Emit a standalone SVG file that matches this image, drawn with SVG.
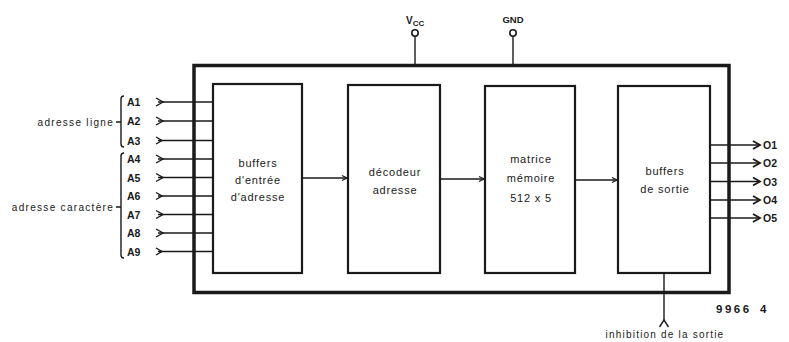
<svg xmlns="http://www.w3.org/2000/svg" width="789" height="342" viewBox="0 0 789 342">
<defs>
<style>
text{font-family:"Liberation Sans",Arial,sans-serif;fill:#1a1a1a}
.t{font-size:11px;text-anchor:middle;letter-spacing:0.8px}
.pin{font-size:10.5px;font-weight:bold}
.lbl{font-size:10px;text-anchor:end;letter-spacing:1.3px}
.blk{fill:#fff;stroke:#1a1a1a;stroke-width:2.2}
.ln{stroke:#1a1a1a;stroke-width:1.4;fill:none}
.chev{stroke:#1a1a1a;stroke-width:1.4;fill:none}
</style>
<marker id="ah" markerWidth="10" markerHeight="10" refX="8" refY="5" orient="auto" markerUnits="userSpaceOnUse">
<path d="M1,1 L8,5 L1,9" fill="none" stroke="#1a1a1a" stroke-width="1.8"/>
</marker>
<marker id="sm" markerWidth="8" markerHeight="8" refX="6" refY="4" orient="auto" markerUnits="userSpaceOnUse">
<path d="M1,1.5 L6,4 L1,6.5" fill="none" stroke="#1a1a1a" stroke-width="1.2"/>
</marker>
</defs>
<rect width="789" height="342" fill="#fff"/>
<g id="chip">
<rect x="194" y="65.5" width="535" height="227" fill="none" stroke="#1a1a1a" stroke-width="3.5"/>
</g>
<g id="vcc">
<circle cx="415" cy="33" r="3.2" fill="#fff" stroke="#1a1a1a" stroke-width="1.6"/>
<text x="406" y="24" class="pin" style="font-size:10px">V<tspan font-size="8" dy="2">CC</tspan></text>
</g>
<g id="gnd">
<circle cx="513" cy="33" r="3.2" fill="#fff" stroke="#1a1a1a" stroke-width="1.6"/>
<text x="513" y="23" class="pin" text-anchor="middle" style="font-size:9.5px">GND</text>
</g>
<g id="connectors">
<line class="ln" x1="415" y1="36.5" x2="415" y2="64"/>
<line class="ln" x1="513" y1="36.5" x2="513" y2="64"/>
<g id="inputs">
<line class="ln" x1="158" y1="102" x2="213" y2="102"/>
<line class="ln" x1="158" y1="121" x2="213" y2="121"/>
<line class="ln" x1="158" y1="140.5" x2="213" y2="140.5"/>
<line class="ln" x1="158" y1="159" x2="213" y2="159"/>
<line class="ln" x1="158" y1="177.5" x2="213" y2="177.5"/>
<line class="ln" x1="158" y1="196" x2="213" y2="196"/>
<line class="ln" x1="158" y1="214.5" x2="213" y2="214.5"/>
<line class="ln" x1="158" y1="233" x2="213" y2="233"/>
<line class="ln" x1="158" y1="251.5" x2="213" y2="251.5"/>
<path class="chev" d="M156,98 L163,102 L156,106 M156,117 L163,121 L156,125 M156,137 L162,140.5 L156,144 M156,155 L163,159 L156,163 M156,173.5 L163,177.5 L156,181.5 M156,192.5 L162,196 L156,199.5 M156,210.5 L163,214.5 L156,218.5 M156,229 L163,233 L156,237 M156,248 L162,251.5 L156,255"/>
</g>
<line class="ln" x1="302" y1="178" x2="347" y2="178" marker-end="url(#sm)"/>
<line class="ln" x1="440" y1="179" x2="484" y2="179" marker-end="url(#sm)"/>
<line class="ln" x1="575" y1="180" x2="617" y2="180" marker-end="url(#sm)"/>
<g id="outputs">
<line class="ln" x1="710" y1="145" x2="760" y2="145" marker-end="url(#ah)"/>
<line class="ln" x1="710" y1="163" x2="760" y2="163" marker-end="url(#ah)"/>
<line class="ln" x1="710" y1="181.5" x2="760" y2="181.5" marker-end="url(#ah)"/>
<line class="ln" x1="710" y1="200" x2="760" y2="200" marker-end="url(#ah)"/>
<line class="ln" x1="710" y1="218" x2="760" y2="218" marker-end="url(#ah)"/>
</g>
<line class="ln" x1="664" y1="273" x2="664" y2="321"/>
<path class="chev" d="M659.5,327 L664,320 L668.5,327" stroke-width="1.6"/>
</g>
<g id="b1">
<rect class="blk" x="213" y="84" width="89" height="189"/>
<text class="t" x="258" y="167">buffers</text>
<text class="t" x="258" y="184">d'entrée</text>
<text class="t" x="258" y="201">d'adresse</text>
</g>
<g id="b2">
<rect class="blk" x="348" y="85" width="92" height="188"/>
<text class="t" x="395" y="176">décodeur</text>
<text class="t" x="395" y="194">adresse</text>
</g>
<g id="b3">
<rect class="blk" x="485" y="86" width="90" height="187"/>
<text class="t" x="531" y="163">matrice</text>
<text class="t" x="531" y="182">mémoire</text>
<text class="t" x="531" y="202">512 x 5</text>
</g>
<g id="b4">
<rect class="blk" x="618" y="86" width="92" height="187"/>
<text class="t" x="665" y="175">buffers</text>
<text class="t" x="665" y="193">de sortie</text>
</g>
<g id="pins-in">
<text class="pin" x="127" y="106">A1</text>
<text class="pin" x="127" y="125">A2</text>
<text class="pin" x="127" y="144.5">A3</text>
<text class="pin" x="127" y="163">A4</text>
<text class="pin" x="127" y="181.5">A5</text>
<text class="pin" x="127" y="200">A6</text>
<text class="pin" x="127" y="218.5">A7</text>
<text class="pin" x="127" y="237">A8</text>
<text class="pin" x="127" y="255.5">A9</text>
<path class="ln" stroke-width="1" d="M124,96 Q121,96 121,99 L121,144 Q121,147 124,147 M124,153 Q121,153 121,156 L121,255 Q121,258 124,258 M116,122 L121,122 M116,207 L121,207"/>
</g>
<g id="labels">
<text class="lbl" x="114" y="125.5">adresse ligne</text>
<text class="lbl" x="114" y="210.5">adresse caractère</text>
<text class="pin" x="763" y="149">O1</text>
<text class="pin" x="763" y="167">O2</text>
<text class="pin" x="763" y="185.5">O3</text>
<text class="pin" x="763" y="204">O4</text>
<text class="pin" x="763" y="222">O5</text>
<text class="pin" x="716" y="313" style="font-size:11.5px;letter-spacing:2.5px">9966<tspan x="760">4</tspan></text>
<text class="t" x="665" y="338" style="font-size:10px;letter-spacing:1.2px">inhibition de la sortie</text>
</g>
</svg>
